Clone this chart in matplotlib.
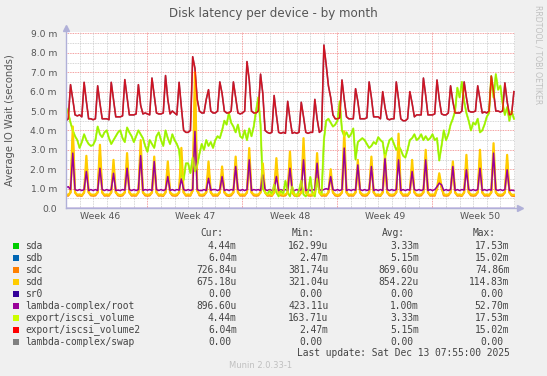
import numpy as np
import matplotlib.pyplot as plt

# values, 6 samples per day (4h step), one row per day
export_vol2 = [
    4.50, 4.60, 6.36, 5.60, 4.80, 4.75,
    4.80, 4.70, 6.48, 5.50, 4.60, 4.60,
    4.55, 4.60, 6.30, 5.40, 4.60, 4.60,
    4.60, 4.55, 6.48, 5.60, 4.70, 4.70,
    4.70, 4.75, 6.62, 5.70, 4.80, 4.80,
    4.80, 4.85, 6.36, 5.30, 4.85, 4.90,
    4.85, 4.80, 6.70, 5.80, 4.90, 4.85,
    4.85, 4.90, 6.83, 5.60, 4.85, 5.00,
    4.90, 4.80, 6.48, 5.20, 4.00, 3.90,
    3.90, 4.00, 7.80, 7.20, 5.60, 5.00,
    4.90, 4.90, 5.60, 6.10, 5.00, 4.90,
    4.90, 5.00, 6.50, 5.90, 5.00, 4.90,
    4.90, 5.00, 6.50, 5.70, 4.90, 4.85,
    4.90, 5.00, 7.55, 6.60, 5.00, 4.90,
    4.90, 5.00, 6.90, 5.90, 4.00, 3.90,
    3.85, 3.90, 5.80, 4.80, 3.90, 3.85,
    3.90, 3.85, 5.50, 4.60, 3.85, 3.90,
    3.85, 3.90, 5.45, 4.70, 3.90, 3.85,
    3.90, 3.90, 5.60, 4.60, 3.90, 4.00,
    8.40, 7.40, 6.30, 5.70, 4.80, 4.60,
    4.60, 4.65, 6.60, 5.60, 4.70, 4.60,
    4.60, 4.60, 6.15, 5.50, 4.60, 4.60,
    4.60, 4.65, 6.50, 5.70, 4.70, 4.70,
    4.70, 4.60, 6.00, 5.20, 4.60, 4.55,
    4.60, 4.60, 6.50, 5.60, 4.60, 4.50,
    4.50, 4.60, 6.00, 5.40, 4.70, 4.80,
    4.80, 4.80, 6.70, 5.80, 4.80, 4.80,
    4.80, 4.85, 6.60, 5.60, 4.85, 4.80,
    4.80, 4.90, 6.30, 5.50, 4.90, 4.90,
    4.90, 5.00, 6.50, 5.70, 5.00, 4.95,
    4.95, 5.00, 6.30, 5.60, 4.90, 4.95,
    4.90, 5.00, 6.80, 6.00, 5.00, 5.00,
    4.95, 5.00, 6.45, 5.50, 4.80, 4.85,
    6.00,
]

export_vol = [
    5.20, 4.90, 4.40, 4.00, 3.70, 3.50,
    3.10, 3.40, 3.80, 3.50, 3.30, 3.20,
    3.25, 3.50, 4.20, 3.80, 3.65, 3.90,
    4.00, 3.60, 3.30, 3.50, 3.70, 3.90,
    4.00, 3.60, 3.40, 4.15, 3.90, 3.70,
    3.40, 3.70, 4.00, 3.80, 3.60, 3.20,
    2.90, 3.50, 3.30, 3.10, 3.70, 3.90,
    3.50, 3.20, 4.00, 3.60, 3.30, 3.80,
    3.50, 3.30, 3.00, 1.70, 1.45, 2.30,
    2.30, 1.80, 2.60, 1.90, 2.20, 2.80,
    3.30, 3.00, 3.50, 3.20, 3.40, 3.10,
    3.50, 3.70, 3.60, 4.00, 4.50, 4.30,
    4.90, 4.40, 4.20, 3.90, 4.30, 3.70,
    3.60, 4.00, 3.50, 4.10, 3.70, 4.20,
    5.00, 5.70, 4.30, 1.00, 0.80, 0.70,
    0.90, 0.70, 1.20, 0.80, 0.60, 0.90,
    0.70, 1.40, 0.80, 0.60, 1.10, 0.70,
    0.60, 0.90, 1.40, 0.70, 0.60, 0.80,
    1.60, 0.70, 0.60, 1.50, 0.80, 0.70,
    3.50, 4.50, 4.60, 4.40, 4.20, 4.30,
    4.50, 5.50, 4.00, 3.70, 3.90, 3.65,
    3.80, 4.10, 2.50, 3.40, 3.50, 3.60,
    3.50, 3.30, 3.10, 3.20, 3.40, 3.30,
    3.65, 3.50, 3.40, 2.60, 3.10, 3.50,
    3.60, 3.30, 3.00, 3.20, 3.00, 2.70,
    2.60, 3.00, 3.50, 3.60, 3.80, 3.50,
    3.60, 3.80, 3.50, 3.70, 3.50, 3.60,
    3.80, 3.50, 3.60, 2.45, 3.20, 4.00,
    3.50, 3.80, 4.30, 4.60, 5.00, 6.20,
    5.70, 6.50, 5.50, 4.90, 4.50, 4.00,
    4.40, 4.30, 4.60, 3.90, 4.00, 4.30,
    4.70, 4.90, 6.80, 5.70, 6.90, 6.10,
    6.30, 5.40, 4.80, 5.20, 4.50, 5.00,
    4.60,
]

root = [
    1.05, 1.10, 0.95, 2.83, 0.95, 0.90,
    0.95, 0.90, 0.95, 1.88, 0.90, 0.95,
    0.90, 0.95, 0.90, 2.05, 0.95, 0.90,
    0.95, 0.90, 0.95, 1.79, 0.90, 0.92,
    0.90, 0.95, 0.92, 2.05, 0.95, 0.90,
    0.95, 0.90, 0.95, 2.70, 0.90, 0.95,
    0.92, 0.95, 0.90, 2.40, 0.95, 0.90,
    0.95, 0.90, 0.95, 1.62, 0.90, 0.95,
    0.90, 0.95, 0.92, 1.50, 0.95, 0.90,
    0.95, 0.90, 0.95, 3.95, 0.95, 0.90,
    0.90, 0.95, 0.90, 1.53, 0.92, 0.95,
    0.95, 0.90, 0.95, 1.62, 0.90, 0.95,
    0.90, 0.95, 0.92, 2.14, 0.95, 0.90,
    0.95, 0.90, 0.95, 2.48, 0.90, 0.95,
    0.92, 0.95, 0.90, 1.70, 0.95, 0.90,
    0.95, 0.90, 0.95, 1.62, 0.90, 0.95,
    0.90, 0.95, 0.90, 2.05, 0.95, 0.90,
    0.95, 0.90, 0.95, 2.48, 0.90, 0.95,
    0.90, 0.95, 0.92, 2.31, 0.95, 0.90,
    0.95, 1.00, 0.95, 1.62, 0.95, 0.90,
    0.95, 0.90, 0.95, 3.09, 0.90, 0.95,
    0.90, 0.95, 0.92, 2.22, 0.95, 0.90,
    0.95, 0.90, 0.95, 2.14, 0.90, 0.95,
    0.90, 0.95, 0.90, 2.57, 0.95, 0.90,
    0.95, 0.90, 0.95, 2.48, 0.90, 0.95,
    0.90, 0.95, 0.92, 1.88, 0.95, 0.90,
    0.95, 0.90, 0.95, 2.48, 0.90, 0.95,
    0.90, 0.95, 1.10, 1.28, 1.20, 0.90,
    0.95, 0.90, 0.95, 2.14, 0.90, 0.95,
    0.90, 0.95, 0.92, 1.97, 0.95, 0.90,
    0.95, 0.90, 0.95, 2.05, 0.90, 0.95,
    0.90, 0.95, 0.92, 2.83, 0.95, 0.90,
    0.95, 0.90, 0.95, 1.97, 0.90, 0.92,
    0.90,
]

sdd = [
    0.70, 0.68, 0.80, 4.20, 0.80, 0.68,
    0.70, 0.66, 0.80, 2.69, 0.80, 0.70,
    0.68, 0.70, 0.80, 3.26, 0.80, 0.68,
    0.70, 0.68, 0.80, 2.48, 0.80, 0.70,
    0.66, 0.70, 0.80, 2.83, 0.80, 0.68,
    0.70, 0.68, 0.80, 3.50, 0.80, 0.70,
    0.68, 0.70, 0.80, 2.65, 0.80, 0.68,
    0.70, 0.66, 0.80, 2.40, 0.80, 0.70,
    0.68, 0.70, 0.80, 3.10, 0.80, 0.68,
    0.70, 0.68, 0.90, 7.00, 0.90, 0.70,
    0.68, 0.70, 0.80, 2.40, 0.80, 0.68,
    0.70, 0.68, 0.80, 2.14, 0.80, 0.70,
    0.66, 0.70, 0.80, 2.65, 0.80, 0.68,
    0.70, 0.68, 0.80, 3.09, 0.80, 0.70,
    0.68, 0.70, 0.80, 2.30, 0.80, 0.68,
    0.70, 0.66, 0.80, 2.57, 0.80, 0.70,
    0.68, 0.70, 0.80, 2.91, 0.80, 0.68,
    0.70, 0.68, 0.80, 3.60, 0.80, 0.70,
    0.68, 0.70, 0.80, 2.83, 0.80, 0.68,
    0.70, 0.68, 0.80, 2.00, 0.80, 0.70,
    0.66, 0.70, 0.80, 3.95, 0.80, 0.68,
    0.70, 0.68, 0.80, 2.48, 0.80, 0.70,
    0.68, 0.70, 0.80, 2.65, 0.80, 0.68,
    0.70, 0.66, 0.80, 2.74, 0.80, 0.70,
    0.68, 0.70, 0.80, 3.83, 0.80, 0.68,
    0.70, 0.68, 0.80, 2.48, 0.80, 0.70,
    0.68, 0.70, 0.80, 3.00, 0.80, 0.68,
    0.70, 0.68, 1.00, 1.79, 1.10, 0.70,
    0.68, 0.70, 0.80, 2.40, 0.80, 0.68,
    0.70, 0.66, 0.80, 2.74, 0.80, 0.70,
    0.68, 0.70, 0.80, 3.00, 0.80, 0.68,
    0.70, 0.68, 0.80, 3.34, 0.80, 0.70,
    0.68, 0.70, 0.80, 2.74, 0.80, 0.68,
    0.68,
]

sdc = [
    0.64, 0.63, 0.80, 3.60, 0.80, 0.63,
    0.64, 0.62, 0.80, 2.30, 0.80, 0.64,
    0.63, 0.64, 0.80, 2.80, 0.80, 0.63,
    0.64, 0.63, 0.80, 2.10, 0.80, 0.64,
    0.62, 0.64, 0.80, 2.40, 0.80, 0.63,
    0.64, 0.63, 0.80, 3.00, 0.80, 0.64,
    0.63, 0.64, 0.80, 2.30, 0.80, 0.63,
    0.64, 0.62, 0.80, 2.00, 0.80, 0.64,
    0.63, 0.64, 0.80, 2.60, 0.80, 0.63,
    0.64, 0.63, 0.90, 6.00, 0.90, 0.64,
    0.63, 0.64, 0.80, 2.00, 0.80, 0.63,
    0.64, 0.63, 0.80, 1.80, 0.80, 0.64,
    0.62, 0.64, 0.80, 2.30, 0.80, 0.63,
    0.64, 0.63, 0.80, 2.60, 0.80, 0.64,
    0.63, 0.64, 0.80, 2.00, 0.80, 0.63,
    0.64, 0.62, 0.80, 2.20, 0.80, 0.64,
    0.63, 0.64, 0.80, 2.50, 0.80, 0.63,
    0.64, 0.63, 0.80, 3.10, 0.80, 0.64,
    0.63, 0.64, 0.80, 2.40, 0.80, 0.63,
    0.64, 0.63, 0.80, 1.70, 0.80, 0.64,
    0.62, 0.64, 0.80, 3.40, 0.80, 0.63,
    0.64, 0.63, 0.80, 2.10, 0.80, 0.64,
    0.63, 0.64, 0.80, 2.30, 0.80, 0.63,
    0.64, 0.62, 0.80, 2.40, 0.80, 0.64,
    0.63, 0.64, 0.80, 3.30, 0.80, 0.63,
    0.64, 0.63, 0.80, 2.10, 0.80, 0.64,
    0.63, 0.64, 0.80, 2.60, 0.80, 0.63,
    0.64, 0.63, 1.00, 1.50, 1.05, 0.64,
    0.63, 0.64, 0.80, 2.10, 0.80, 0.63,
    0.64, 0.62, 0.80, 2.40, 0.80, 0.64,
    0.63, 0.64, 0.80, 2.60, 0.80, 0.63,
    0.64, 0.63, 0.80, 2.90, 0.80, 0.64,
    0.63, 0.64, 0.80, 2.40, 0.80, 0.63,
    0.62,
]

# sda / sdb carry the same data as the two iscsi volumes
sda = export_vol
sdb = export_vol2
zero_t = [0.0, 33.0]
zero_v = [0.0, 0.0]

week_pos = [2.5, 9.5, 16.5, 23.5, 30.5]
week_labels = ['Week 46', 'Week 47', 'Week 48', 'Week 49', 'Week 50']
week_bounds = [6, 13, 20, 27]

names = ['sda', 'sdb', 'sdc', 'sdd', 'sr0', 'lambda-complex/root',
         'export/iscsi_volume', 'export/iscsi_volume2', 'lambda-complex/swap']
colors = ['#00cc00', '#0066b3', '#ff8000', '#ffcc00', '#330099', '#990099',
          '#ccff00', '#ff0000', '#808080']
cur = ['4.44m', '6.04m', '726.84u', '675.18u', '0.00', '896.60u', '4.44m', '6.04m', '0.00']
mins = ['162.99u', '2.47m', '381.74u', '321.04u', '0.00', '423.11u', '163.71u', '2.47m', '0.00']
avgs = ['3.33m', '5.15m', '869.60u', '854.22u', '0.00', '1.00m', '3.33m', '5.15m', '0.00']
maxs = ['17.53m', '15.02m', '74.86m', '114.83m', '0.00', '52.70m', '17.53m', '15.02m', '0.00']

W, H = 547, 376
fig = plt.figure(figsize=(W / 100, H / 100), dpi=100, facecolor='#f0f0f0')


def fx(x):
    return x / W


def fy(y):
    return 1 - y / H


ax = fig.add_axes([fx(66), fy(208), 449 / W, 176.5 / H])
ax.set_facecolor('white')
ax.set_xlim(0, 33.08)
ax.set_ylim(0, 9.1)

# grid
dots = (0, (1, 1))
for v in np.arange(0.5, 9.1, 1.0):
    ax.axhline(v, color='#c8c8c8', lw=0.6, ls=dots, zorder=1)
for v in range(1, 10):
    ax.axhline(v, color='#f08080', lw=0.6, ls=dots, zorder=1)
for d in range(1, 34):
    if d not in week_bounds:
        ax.axvline(d, color='#c8c8c8', lw=0.6, ls=dots, zorder=1)
for d in week_bounds:
    ax.axvline(d, color='#f08080', lw=0.6, ls=dots, zorder=1)

t = np.arange(len(export_vol2)) / 6
ax.plot(t, sda, color=colors[0], lw=1.0, zorder=2)
ax.plot(t, sdb, color=colors[1], lw=1.0, zorder=2)
ax.plot(t, sdc, color=colors[2], lw=1.4, zorder=2)
ax.plot(t, sdd, color=colors[3], lw=1.6, zorder=2)
ax.plot(zero_t, zero_v, color=colors[4], lw=1.0, zorder=2)
ax.plot(t, root, color=colors[5], lw=1.1, zorder=2)
ax.plot(t, export_vol, color=colors[6], lw=1.5, alpha=0.75, zorder=2)
ax.plot(t, export_vol2, color=colors[7], lw=1.2, alpha=0.8, zorder=2)

for s in ['top', 'right', 'left', 'bottom']:
    ax.spines[s].set_visible(False)
axis_c = '#b0b0d8'
ax.plot([0, 1.012], [0, 0], color=axis_c, lw=1, transform=ax.transAxes, clip_on=False, zorder=3)
ax.plot([0, 0], [0, 1.02], color=axis_c, lw=1, transform=ax.transAxes, clip_on=False, zorder=3)
ax.plot([1.012], [0], marker='>', ms=4, color=axis_c, transform=ax.transAxes, clip_on=False)
ax.plot([0], [1.02], marker='^', ms=4, color=axis_c, transform=ax.transAxes, clip_on=False)

ax.set_yticks(range(10))
ax.set_yticklabels(['0.0'] + ['%d.0 m' % i for i in range(1, 10)])
ax.set_xticks(week_pos)
ax.set_xticklabels(week_labels)
ax.tick_params(axis='y', length=0, pad=6.5, labelsize=6.6, labelcolor='#555555')
ax.tick_params(axis='x', length=0, pad=3, labelsize=6.7, labelcolor='#555555')

fig.text(0.5, fy(14), 'Disk latency per device - by month', ha='center', va='center',
         fontsize=8.6, color='#555555')
fig.text(fx(10), fy(120), 'Average IO Wait (seconds)', rotation=90, ha='center', va='center',
         fontsize=7.2, color='#555555')
fig.text(fx(538), fy(5), 'RRDTOOL / TOBI OETIKER', rotation=270, ha='center', va='top',
         fontsize=5.6, color='#c0c0c0')

# legend table
mono = 'DejaVu Sans Mono'
fs = 6.9
cw = 5.76
col_right = [236.7, 328.3, 419.0, 509.3]
txt_c = '#444444'
for x, h in zip(col_right, ['Cur:', 'Min:', 'Avg:', 'Max:']):
    fig.text(fx(x - 2.4 * cw), fy(233.3), h, ha='right', va='center', family=mono,
             fontsize=fs, color=txt_c)
for i, name in enumerate(names):
    y = 245.7 + 12 * i
    fig.patches.append(plt.Rectangle((fx(13.3), fy(y + 3)), 6 / W, 6 / H, transform=fig.transFigure,
                                     facecolor=colors[i], edgecolor='none'))
    fig.text(fx(25), fy(y), name, ha='left', va='center', family=mono, fontsize=fs, color=txt_c)
    for x, vals in zip(col_right, [cur, mins, avgs, maxs]):
        s = vals[i]
        xr = x if s[-1] in 'mu' else x - cw
        fig.text(fx(xr), fy(y), s, ha='right', va='center', family=mono, fontsize=fs, color=txt_c)

fig.text(fx(509.3), fy(353.3), 'Last update: Sat Dec 13 07:55:00 2025', ha='right', va='center',
         family=mono, fontsize=fs, color=txt_c)
fig.text(fx(261), fy(365), 'Munin 2.0.33-1', ha='center', va='center', fontsize=6,
         color='#c0c0c0')

fig.savefig('out.png', dpi=100, facecolor=fig.get_facecolor())
